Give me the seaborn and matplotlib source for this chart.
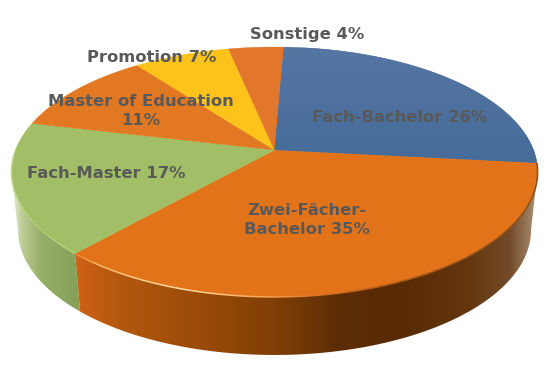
import numpy as np
import matplotlib
matplotlib.use("Agg")
import matplotlib.pyplot as plt
from matplotlib.collections import LineCollection
from matplotlib.patches import Polygon
import seaborn as sns

categories = ["Fach-Bachelor", "Zwei-Fächer-\nBachelor", "Fach-Master",
              "Master of Education\n", "Promotion", "Sonstige"]
values = [26, 35, 17, 11, 7, 4]
top_colors = ["#4A6D9B", "#E37318", "#A2BE66", "#E27822", "#FDC31A", "#E2762A"]

# layout
W, H = 553, 366
APEX_X, APEX_Y, A, B, C = 274.5, 150.0, 259.0, -94.7, 0.176
START_DEG, DEPTH, SHRINK = 2.4, 58.0, 0.975
WALL_FROM, WALL_TO = 100, 260
label_pos = [(400, 118), (307, 220), (106, 173), (141, 111), (152, 57), (307, 34)]

sns.set_theme(style="white")
plt.rcParams["font.family"] = ["DejaVu Sans"]
palette = sns.color_palette(top_colors)


def project(theta_deg):
    t = np.radians(theta_deg)
    u, v = np.sin(t), np.cos(t)
    d = 1 + C * v
    return APEX_X + A * u / d, (APEX_Y + B * v) / d


def lower(x, y):
    return APEX_X + (x - APEX_X) * SHRINK, y + DEPTH


def gradient(x, stops):
    xs, cols = zip(*stops)
    cols = np.array(cols) / 255
    return np.column_stack([np.interp(x, xs, cols[:, i]) for i in range(3)])


orange_side = [(75, (208, 98, 22)), (120, (178, 88, 14)), (200, (155, 75, 8)),
               (280, (125, 62, 5)), (340, (92, 45, 5)), (400, (88, 42, 5)),
               (470, (100, 55, 15)), (510, (115, 75, 40)), (528, (150, 120, 90)),
               (538, (175, 150, 120))]
green_side = [(12, (228, 234, 208)), (22, (190, 205, 150)), (40, (150, 175, 105)),
              (79, (135, 160, 88))]
orange_rim = [(75, (240, 130, 50)), (100, (255, 190, 110)), (180, (255, 225, 170)),
              (260, (250, 170, 90)), (320, (215, 110, 30)), (400, (160, 85, 20)),
              (538, (130, 75, 25))]
green_rim = [(12, (200, 220, 150)), (40, (175, 210, 110)), (79, (190, 225, 120))]

fig = plt.figure(figsize=(W / 100, H / 100), dpi=100)
ax = fig.add_axes([0, 0, 1, 1])
ax.axis("off")

fracs = np.array(values) / sum(values)
edges = START_DEG + 360 * np.concatenate([[0], np.cumsum(fracs)])

# extruded side: smooth horizontal shading clipped to each slice's wall
for i, stops in [(2, green_side), (1, orange_side)]:
    a0, a1 = max(edges[i], WALL_FROM), min(edges[i + 1], WALL_TO)
    th = np.linspace(a0, a1, 300)
    x, y = project(th)
    xb, yb = lower(x, y)
    outline = np.column_stack([np.r_[x, xb[::-1]], np.r_[y, yb[::-1]]])
    wall = Polygon(outline, closed=True, facecolor="none", edgecolor="none")
    ax.add_patch(wall)
    xs = np.arange(0, W + 1)
    shade = gradient(xs, stops)[None, :, :]
    im = ax.imshow(shade, extent=(0, W, H, 0), aspect="auto", zorder=2)
    im.set_clip_path(wall)

# top face
for i in range(len(values)):
    th = np.linspace(edges[i], edges[i + 1], 120)
    x, y = project(th)
    pts = np.column_stack([np.r_[APEX_X, x], np.r_[APEX_Y, y]])
    poly = Polygon(pts, closed=True, facecolor=palette[i], edgecolor=palette[i],
                   linewidth=0.3, zorder=3)
    ax.add_patch(poly)
    if i == 0:
        grad = np.array(sns.blend_palette(["#5575A3", "#466C99"], 64))[:, None, :]
        im = ax.imshow(grad, extent=(270, 540, 165, 48), aspect="auto", zorder=3.1)
        im.set_clip_path(poly)

ax.set_xlim(0, W)
ax.set_ylim(H, 0)

# lit rim of the top face
for i, rim in [(2, green_rim), (1, orange_rim)]:
    th = np.linspace(max(edges[i], 95), min(edges[i + 1], 268), 200)
    x, y = project(th)
    segs = np.stack([np.column_stack([x[:-1], y[:-1]]), np.column_stack([x[1:], y[1:]])], axis=1)
    ax.add_collection(LineCollection(segs, colors=gradient((x[:-1] + x[1:]) / 2, rim),
                                     linewidths=1.1, zorder=4))

for cat, val, (lx, ly) in zip(categories, values, label_pos):
    sep = "" if cat.endswith("\n") else " "
    ax.text(lx, ly, f"{cat}{sep}{val}%", ha="center", va="center", multialignment="center",
            fontsize=11.8, fontweight="bold", color="#595959", linespacing=1.27, zorder=6)

fig.savefig("out.png", dpi=100, facecolor="white")
